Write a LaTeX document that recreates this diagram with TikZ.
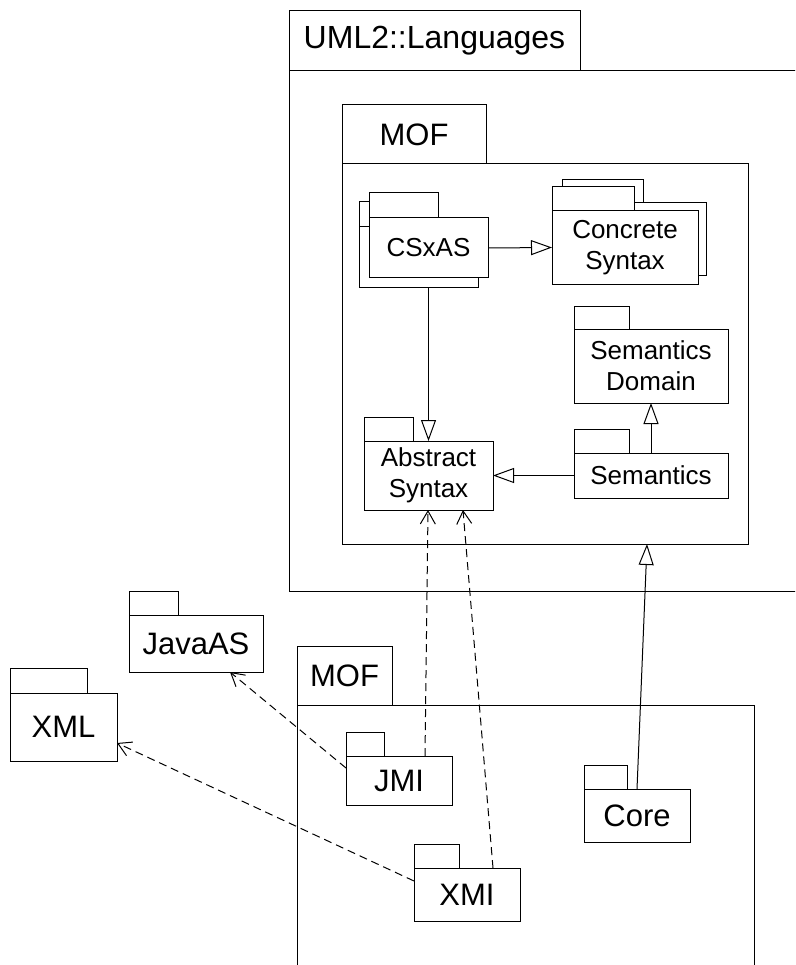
\documentclass[tikz,border=0pt]{standalone}
\usepackage{fontspec}
\setmainfont{Liberation Sans}
\usetikzlibrary{arrows.meta,calc}
\newcommand\ftinner{\fontsize{26}{31}\selectfont}
\newcommand\ftouter{\fontsize{31}{36}\selectfont}
\newcommand\ftbig{\fontsize{32}{38}\selectfont}
\tikzset{
  pkgbody/.style={draw, fill=white, line width=1pt, inner sep=0pt, outer sep=0pt, align=center},
  gen/.style={line width=1pt, -{Triangle[length=21pt,width=15pt,fill=white]}},
  dep/.style={line width=1pt, dash pattern=on 8pt off 5pt, -{Straight Barb[length=13pt,width=15pt]}}
}
% name, NW of body, body w, body h, tab w, tab h, body text, tab text, font
\newcommand\pkg[9]{%
  \node[pkgbody, font=#9, minimum width=#3pt, minimum height=#4pt, anchor=north west] (#1) at #2 {#7};
  \node[pkgbody, font=#9, minimum width=#5pt, minimum height=#6pt, anchor=south west] (#1tab) at (#1.north west) {#8};
}
\begin{document}
\begin{tikzpicture}[x=1pt,y=-1pt]
\useasboundingbox (0,0) rectangle (795,965);
\clip (0,0) rectangle (795,965);
\pkg{uml}{(289,71)}{540}{520}{291}{60}{}{UML2::Languages}{\ftbig}
\pkg{mofin}{(342,164)}{406}{380}{144}{59}{}{MOF}{\ftouter}
\pkg{csxasback}{(359,227)}{119}{60}{69}{25}{}{}{\ftinner}
\pkg{csxas}{(369,218)}{119}{60}{69}{25}{CSxAS}{}{\ftinner}
\pkg{concreteback}{(562,203)}{144}{73}{81}{23}{}{}{\ftinner}
\pkg{concrete}{(552,211)}{146}{73}{82}{24}{Concrete\\Syntax}{}{\ftinner}
\pkg{semdom}{(574,329)}{154}{74}{55}{23}{Semantics\\Domain}{}{\ftinner}
\pkg{sem}{(574,453)}{154}{45}{55}{24}{Semantics}{}{\ftinner}
\pkg{abs}{(364,441)}{129}{69}{49}{24}{Abstract\\Syntax}{}{\ftinner}
\pkg{mofout}{(297,705)}{457}{290}{95}{59}{}{MOF}{\ftouter}
\pkg{jmi}{(346,756)}{106}{49}{38}{24}{JMI}{}{\ftouter}
\pkg{core}{(584,789)}{106}{53}{43}{24}{Core}{}{\ftouter}
\pkg{xmi}{(414,868)}{106}{53}{45}{24}{XMI}{}{\ftouter}
\pkg{javaas}{(129,615)}{134}{57}{49}{24}{JavaAS}{}{\ftouter}
\pkg{xml}{(10,693)}{107}{68}{77}{25}{XML}{}{\ftouter}
\draw[gen] (csxas.east) -- (concrete.west);
\draw[gen] (csxas.south |- csxasback.south) -- (csxas.south |- abs.north);
\draw[gen] (sem.north) -- (semdom.south);
\draw[gen] (sem.west) -- (sem.west -| abs.east);
\draw[gen] (core.north) -- ($(mofin.south west)+(305,0)$);
\draw[dep] ($(jmi.north west)+(79,0)$) -- ($(abs.south west)+(64,0)$);
\draw[dep] ($(xmi.north west)+(79,0)$) -- ($(abs.south west)+(99,0)$);
\draw[dep] ($(jmi.north west)+(0,12)$) -- ($(javaas.south west)+(101,0)$);
\draw[dep] ($(xmi.north west)+(0,13)$) -- ($(xml.north east)+(0,50)$);
\end{tikzpicture}
\end{document}
